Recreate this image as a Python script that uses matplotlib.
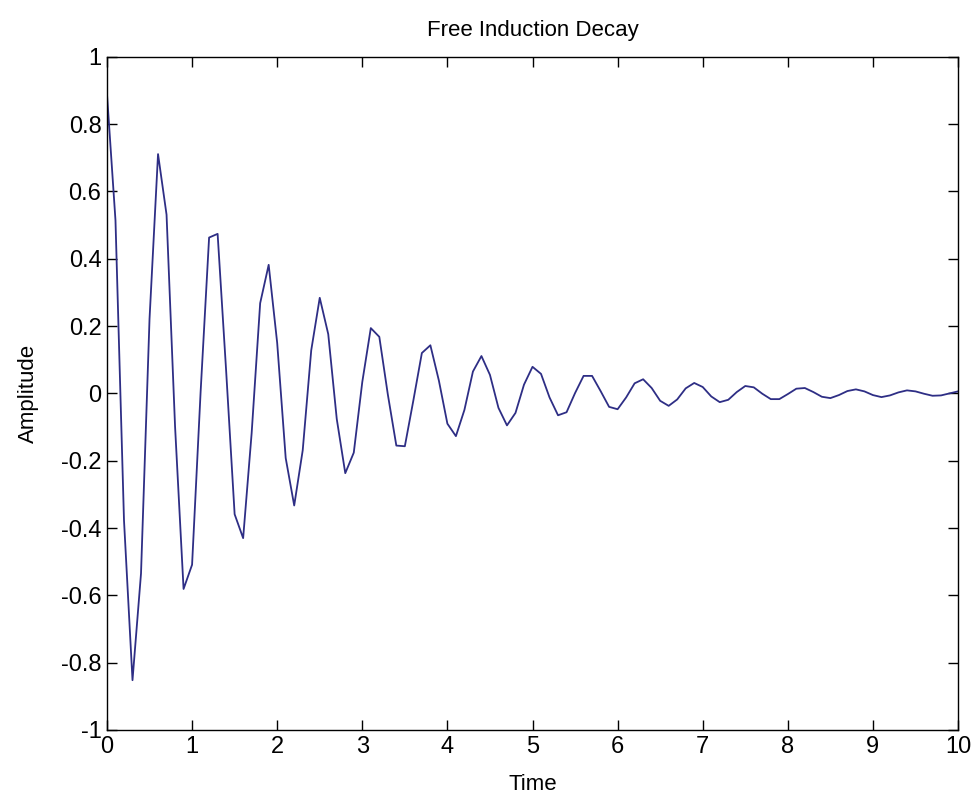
import numpy as np
import matplotlib
matplotlib.use("Agg")
import matplotlib.pyplot as plt
from matplotlib.ticker import FuncFormatter

time = np.round(np.arange(101) * 0.1, 1)
amplitude = [
    0.89, 0.514, -0.377, -0.852, -0.535, 0.221, 0.711, 0.531, -0.098, -0.581,
    -0.509, 0.003, 0.463, 0.474, 0.068, -0.359, -0.430, -0.118, 0.268, 0.382,
    0.150, -0.192, -0.333, -0.169, 0.128, 0.284, 0.176, -0.076, -0.237, -0.176,
    0.034, 0.194, 0.168, -0.003, -0.155, -0.157, -0.021, 0.120, 0.143, 0.038,
    -0.090, -0.127, -0.049, 0.065, 0.111, 0.055, -0.043, -0.095, -0.058, 0.026,
    0.079, 0.058, -0.012, -0.065, -0.056, 0.001, 0.052, 0.052, 0.007, -0.040,
    -0.047, -0.012, 0.030, 0.042, 0.016, -0.022, -0.037, -0.018, 0.015, 0.031,
    0.019, -0.009, -0.026, -0.019, 0.004, 0.022, 0.018, -0.001, -0.017, -0.017,
    -0.002, 0.014, 0.016, 0.004, -0.010, -0.014, -0.005, 0.007, 0.012, 0.006,
    -0.005, -0.011, -0.006, 0.003, 0.009, 0.006, -0.001, -0.007, -0.006, 0.000,
    0.006,
]
x_ticks = list(range(0, 11))
y_ticks = [-1, -0.8, -0.6, -0.4, -0.2, 0, 0.2, 0.4, 0.6, 0.8, 1]

plt.rcParams['font.family'] = ['Liberation Sans', 'DejaVu Sans']

fig = plt.figure(figsize=(9.76, 8), dpi=100)
ax = fig.add_axes([0.1096, 0.0875, 0.8720, 0.8415])

ax.plot(time, amplitude, color='#2e2e85', linewidth=1.3)

ax.set_xlim(0, 10)
ax.set_ylim(-1, 1)
ax.set_xticks(x_ticks)
ax.set_yticks(y_ticks)
ax.yaxis.set_major_formatter(FuncFormatter(lambda v, p: f"{v:g}"))

ax.tick_params(direction='in', length=7, width=1, top=True, right=True,
               labelsize=17, pad=4)
for s in ax.spines.values():
    s.set_linewidth(1.0)

ax.set_title("Free Induction Decay", fontsize=16, pad=15)
ax.set_xlabel("Time", fontsize=16, labelpad=12)
ax.set_ylabel("Amplitude", fontsize=16, labelpad=16)

fig.savefig("out.png", dpi=100)
